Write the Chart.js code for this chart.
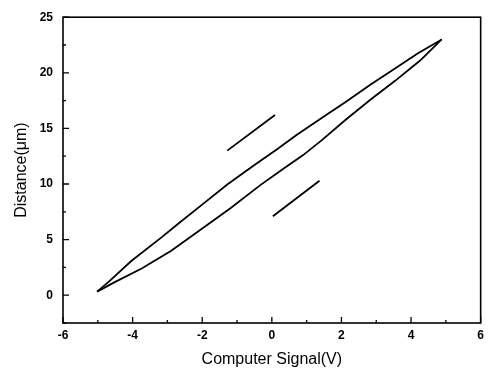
<!DOCTYPE html>
<html><head><meta charset="utf-8">
<script src="https://cdn.jsdelivr.net/npm/chart.js@4/dist/chart.umd.min.js"></script>
<style>html,body{margin:0;padding:0;background:#fff}#w{width:489px;height:373px}</style>
</head><body><div id="w"><canvas id="c"></canvas></div>
<script>
const upperX = [-5.02, -4.69, -4.03, -3.17, -2.70, -1.94, -1.28, -0.55, 0.14, 0.71, 1.56, 2.13, 2.84, 3.55, 4.2, 4.88];
const upperY = [0.32, 1.2, 3.1, 5.2, 6.4, 8.3, 9.95, 11.6, 13.1, 14.4, 16.2, 17.4, 18.95, 20.4, 21.75, 23.0];
const lowerX = [-5.02, -4.5, -3.74, -2.89, -2.0, -1.2, -0.33, 0.3, 0.9, 1.42, 2.13, 2.84, 3.55, 4.26, 4.88];
const lowerY = [0.32, 1.2, 2.4, 4.0, 6.0, 7.8, 9.9, 11.3, 12.6, 13.9, 15.8, 17.6, 19.3, 21.1, 23.0];
const seg1X = [-1.28, 0.09];
const seg1Y = [13.0, 16.2];
const seg2X = [0.03, 1.37];
const seg2Y = [7.1, 10.3];
const xTicks = [-6, -4, -2, 0, 2, 4, 6];
const yTicks = [0, 5, 10, 15, 20, 25];

const pts = (xs, ys) => xs.map((x, i) => ({x, y: ys[i]}));
const ds = (xs, ys) => ({data: pts(xs, ys), showLine: true, borderColor: '#000', borderWidth: 1.8, pointRadius: 0, tension: 0, fill: false});

const frame = {
  id: 'frame',
  afterDraw(chart) {
    const ctx = chart.ctx, a = chart.chartArea;
    const xs = chart.scales.x, ys = chart.scales.y;
    ctx.save();
    ctx.strokeStyle = '#000';
    ctx.lineWidth = 1.6;
    ctx.strokeRect(a.left, a.top, a.right - a.left, a.bottom - a.top);
    ctx.lineWidth = 1.3;
    ctx.beginPath();
    for (let v = -6; v <= 6; v += 1) {
      const px = xs.getPixelForValue(v);
      const len = (v % 2 === 0) ? 6 : 3;
      ctx.moveTo(px, a.bottom); ctx.lineTo(px, a.bottom - len);
    }
    for (let v = -2.5; v <= 25; v += 2.5) {
      const py = ys.getPixelForValue(v);
      const len = (v % 5 === 0) ? 6 : 3;
      ctx.moveTo(a.left, py); ctx.lineTo(a.left + len, py);
    }
    ctx.stroke();
    ctx.restore();
  }
};

new Chart(document.getElementById('c'), {
  type: 'scatter',
  data: {datasets: [ds(upperX, upperY), ds(lowerX, lowerY), ds(seg1X, seg1Y), ds(seg2X, seg2Y)]},
  options: {
    responsive: true, maintainAspectRatio: false, animation: false,
    layout: {padding: {top: 12, right: 6, left: 0, bottom: 0}},
    plugins: {legend: {display: false}, tooltip: {enabled: false}},
    scales: {
      x: {
        type: 'linear', min: -6, max: 6,
        afterBuildTicks: s => { s.ticks = xTicks.map(v => ({value: v})); },
        afterFit: s => { s.height = 50; },
        grid: {display: false, drawTicks: false},
        border: {display: false},
        ticks: {color: '#000', padding: 5, font: {family: 'Liberation Sans', size: 12, weight: 'bold'}},
        title: {display: true, text: 'Computer Signal(V)', color: '#000', font: {family: 'Liberation Sans', size: 16}, padding: {top: 4, bottom: 4}}
      },
      y: {
        type: 'linear', min: -2.5, max: 25,
        afterBuildTicks: s => { s.ticks = yTicks.map(v => ({value: v})); },
        afterFit: s => { s.width = 63; },
        grid: {display: false, drawTicks: false},
        border: {display: false},
        ticks: {color: '#000', padding: 10, font: {family: 'Liberation Sans', size: 12, weight: 'bold'}},
        title: {display: true, text: 'Distance(μm)', color: '#000', font: {family: 'Liberation Sans', size: 16}, padding: {top: 12, bottom: 0}}
      }
    }
  },
  plugins: [frame]
});
</script></body></html>
